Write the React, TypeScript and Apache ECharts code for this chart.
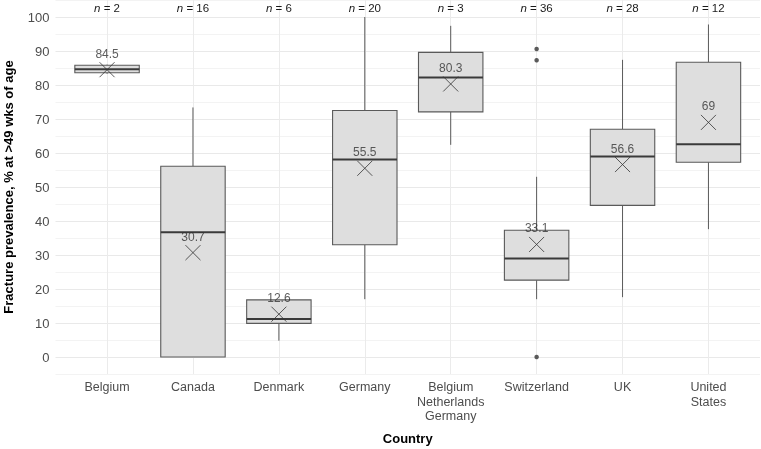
import React, { useEffect, useRef } from "react";
import * as echarts from "echarts";

const categories = [
  "Belgium",
  "Canada",
  "Denmark",
  "Germany",
  "Belgium\nNetherlands\nGermany",
  "Switzerland",
  "UK",
  "United\nStates",
];
const nCounts = [2, 16, 6, 20, 3, 36, 28, 12];
// [low whisker, Q1, median, Q3, high whisker]
const boxStats = [
  [83.3, 83.6, 84.6, 85.8, 86.0],
  [0, 0, 36.7, 56.1, 73.4],
  [4.8, 9.9, 11.2, 16.8, 16.8],
  [17.0, 33.0, 58.1, 72.5, 100],
  [62.4, 72.1, 82.2, 89.6, 97.4],
  [17.0, 22.6, 29.0, 37.3, 53.0],
  [17.6, 44.6, 59.0, 67.0, 87.4],
  [37.6, 57.3, 62.6, 86.7, 97.8],
];
const means = [84.5, 30.7, 12.6, 55.5, 80.3, 33.1, 56.6, 69];
const outliers = [
  [5, 90.6],
  [5, 87.3],
  [5, 0],
];
const yTicks = [0, 10, 20, 30, 40, 50, 60, 70, 80, 90, 100];

const FONT = "'Liberation Sans', Arial, sans-serif";

export default function App() {
  const ref = useRef<HTMLDivElement>(null);
  useEffect(() => {
    if (!ref.current) return;
    const chart = echarts.init(ref.current, null, { renderer: "svg" });
    const xCommon = {
      type: "value" as const,
      min: -0.6,
      max: 7.6,
      minInterval: 1,
      maxInterval: 1,
      splitNumber: 8,
      axisLine: { show: false },
      axisTick: { show: false },
    };
    chart.setOption({
      animation: false,
      textStyle: { fontFamily: FONT },
      grid: {
        left: 55.5,
        right: 1,
        top: 0,
        height: 374,
        containLabel: false,
        outerBoundsMode: "none",
      },
      xAxis: [
        {
          ...xCommon,
          name: "Country",
          nameLocation: "middle",
          nameGap: 58,
          nameTextStyle: { fontWeight: "bold", fontSize: 13, color: "#000", fontFamily: FONT },
          splitLine: {
            show: true,
            showMinLine: false,
            showMaxLine: false,
            lineStyle: { color: "#ebebeb", width: 1 },
          },
          axisLabel: {
            showMinLabel: false,
            showMaxLabel: false,
            margin: 6,
            fontSize: 12.5,
            lineHeight: 14.5,
            color: "#4d4d4d",
            fontFamily: FONT,
            formatter: (v: number) =>
              Number.isInteger(v) && v >= 0 && v < categories.length ? categories[v] : "",
          },
        },
        {
          ...xCommon,
          position: "top",
          splitLine: { show: false },
          axisLabel: {
            inside: true,
            showMinLabel: false,
            showMaxLabel: false,
            margin: 2,
            fontSize: 11.5,
            color: "#1a1a1a",
            fontFamily: FONT,
            formatter: (v: number) =>
              Number.isInteger(v) && v >= 0 && v < nCounts.length
                ? `{i|n} = ${nCounts[v]}`
                : "",
            rich: {
              i: { fontStyle: "italic", fontSize: 11.5, color: "#1a1a1a", fontFamily: FONT },
            },
          },
        },
      ],
      yAxis: {
        type: "value",
        min: -5,
        max: 105,
        interval: 5,
        name: "Fracture prevalence, % at >49 wks of age",
        nameLocation: "middle",
        nameGap: 41,
        nameTextStyle: { fontWeight: "bold", fontSize: 13, color: "#000", fontFamily: FONT },
        axisLine: { show: false },
        axisTick: { show: false },
        axisLabel: {
          margin: 6,
          fontSize: 13,
          color: "#4d4d4d",
          fontFamily: FONT,
          formatter: (v: number) => (yTicks.includes(v) ? String(v) : ""),
        },
        splitLine: {
          show: true,
          lineStyle: { color: ["#f3f3f3", "#e9e9e9"], width: 1 },
        },
      },
      series: [
        {
          type: "custom",
          xAxisIndex: 0,
          data: boxStats.map((s, i) => [i, ...s]),
          encode: { x: 0, y: [1, 2, 3, 4, 5] },
          renderItem: (params: any, api: any) => {
            const x = api.value(0);
            const low = api.coord([x, api.value(1)]);
            const q1 = api.coord([x, api.value(2)]);
            const med = api.coord([x, api.value(3)]);
            const q3 = api.coord([x, api.value(4)]);
            const high = api.coord([x, api.value(5)]);
            const w = api.size([0.75, 0])[0];
            const stroke = "#5a5a5a";
            return {
              type: "group",
              children: [
                {
                  type: "line",
                  shape: { x1: q3[0], y1: q3[1], x2: high[0], y2: high[1] },
                  style: { stroke, lineWidth: 1 },
                },
                {
                  type: "line",
                  shape: { x1: low[0], y1: low[1], x2: q1[0], y2: q1[1] },
                  style: { stroke, lineWidth: 1 },
                },
                {
                  type: "rect",
                  shape: { x: q3[0] - w / 2, y: q3[1], width: w, height: q1[1] - q3[1] },
                  style: { fill: "#dedede", stroke, lineWidth: 1.1 },
                },
                {
                  type: "line",
                  shape: { x1: med[0] - w / 2, y1: med[1], x2: med[0] + w / 2, y2: med[1] },
                  style: { stroke: "#3a3a3a", lineWidth: 2 },
                },
              ],
            };
          },
          z: 2,
        },
        {
          type: "scatter",
          xAxisIndex: 0,
          data: outliers,
          symbol: "circle",
          symbolSize: 4.5,
          itemStyle: { color: "#333" },
          z: 3,
        },
        {
          type: "scatter",
          xAxisIndex: 0,
          data: means.map((m, i) => [i, m]),
          symbol: "path://M0,0L10,10M10,0L0,10",
          symbolSize: 15,
          itemStyle: { color: "transparent", borderColor: "#333", borderWidth: 1 },
          label: {
            show: true,
            position: "top",
            distance: 2,
            fontSize: 12,
            color: "#333",
            fontFamily: FONT,
            formatter: (p: any) => String(means[p.dataIndex]),
          },
          z: 4,
        },
      ],
    });
    return () => chart.dispose();
  }, []);
  return (
    <div
      ref={ref}
      style={{ position: "fixed", left: 0, top: 0, width: 761, height: 449 }}
    />
  );
}
